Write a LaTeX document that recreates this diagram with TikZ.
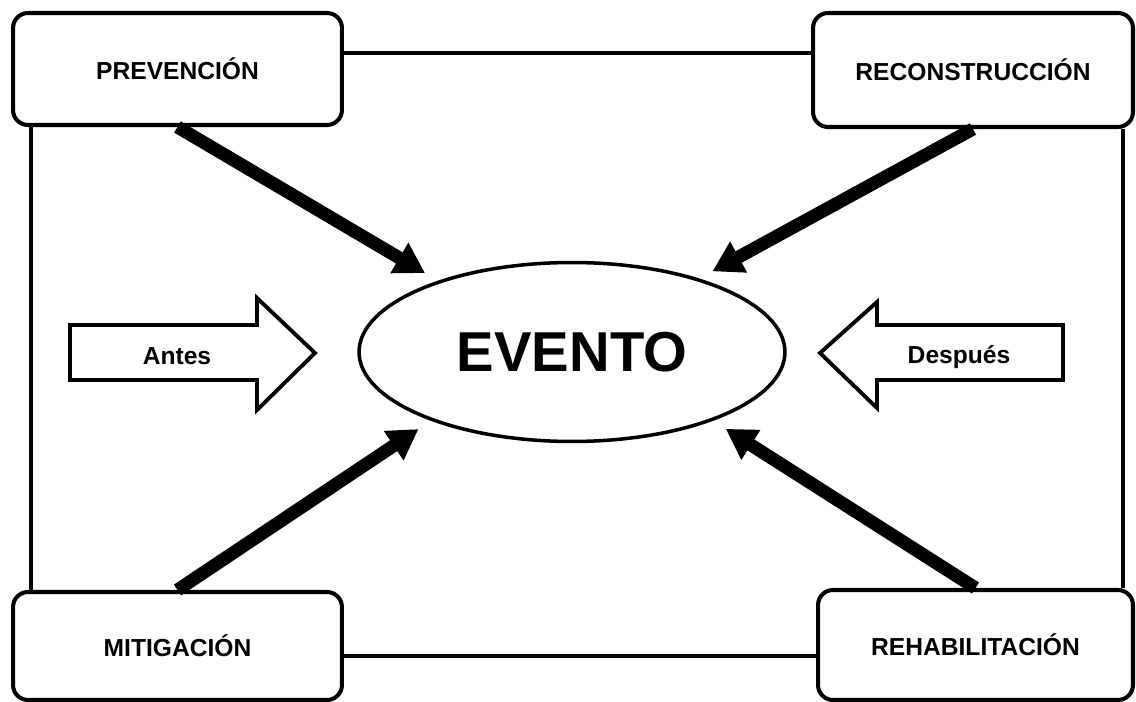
\documentclass[tikz,border=0pt]{standalone}
\usepackage{fontspec}
\setmainfont{Liberation Sans}
\usepackage{tikz}
\usetikzlibrary{arrows.meta,shapes.geometric}

\begin{document}
\begin{tikzpicture}[x=0.02cm,y=-0.02cm,
  caja/.style={draw,line width=2.3pt,rounded corners=0.3cm,inner sep=0pt,
    font=\bfseries\fontsize{14}{16}\selectfont},
  enlace/.style={line width=2.8pt},
  flecha/.style={line width=7.4pt,-{Triangle[length=17pt,width=19pt]},shorten >=0.3cm},
  bloque/.style={line width=2.2pt,line join=miter},
  rotulo/.style={font=\bfseries\fontsize{14}{16}\selectfont}]
\useasboundingbox (0,0) rectangle (1136,702);
% central event
\node[draw,ellipse,line width=2pt,minimum width=8.52cm,minimum height=3.58cm,inner sep=0pt,
  font=\bfseries\fontsize{32}{36}\selectfont] (evento) at (572,352) {EVENTO};
\foreach \n/\x/\y/\w/\h/\t in {prev/177.5/69/6.58/2.24/PREVENCIÓN,
    recon/973/70/6.40/2.28/RECONSTRUCCIÓN,
    mitig/177.5/646/6.58/2.16/MITIGACIÓN,
    rehab/975.5/645/6.30/2.20/REHABILITACIÓN}{% the four phases
  \node[caja,minimum width=\w cm,minimum height=\h cm] (\n) at (\x,\y) {\t};}
% frame joining the phases
\coordinate (arr) at ([yshift=0.32cm]prev.east);
\coordinate (izq) at ([xshift=0.4cm]prev.south west);
\coordinate (der) at ([xshift=-0.24cm]recon.south east);
\coordinate (aba) at ([yshift=-0.2cm]mitig.east);
\draw[enlace] (arr) -- (arr -| recon.west);
\draw[enlace] (izq) -- (izq |- mitig.north);
\draw[enlace] (der) -- (der |- rehab.north);
\draw[enlace] (aba) -- (aba -| rehab.west);
% arrows to the event
\draw[flecha] (prev.south) -- (evento.152);
\draw[flecha] (recon.south) -- (evento.30);
\draw[flecha] (mitig.north) -- (evento.206);
\draw[flecha] (rehab.north) -- (evento.334);
% before / after
\draw[bloque] (70,325) -- (257,325) -- (257,298) -- (315,353) -- (257,410) -- (257,380) -- (70,380) -- cycle;
\node[rotulo] (antes) at (177,356) {Antes};
\draw[bloque] (1063,325) -- (877,325) -- (877,302) -- (820,353) -- (877,408) -- (877,380) -- (1063,380) -- cycle;
\node[rotulo] (despues) at (959,357) {Después};
\end{tikzpicture}
\end{document}
